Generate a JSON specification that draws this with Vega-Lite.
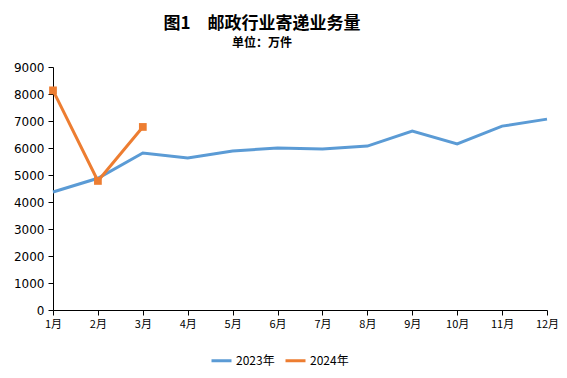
{
  "$schema": "https://vega.github.io/schema/vega-lite/v6.json",
  "width": 494,
  "height": 243,
  "autosize": "none",
  "padding": {"left": 53, "top": 67, "right": 20, "bottom": 68},
  "background": "white",
  "title": {
    "text": "图1　邮政行业寄递业务量",
    "subtitle": "单位：万件",
    "anchor": "middle",
    "dx": -38,
    "offset": 11,
    "font": "Noto Sans CJK SC",
    "fontSize": 17,
    "fontWeight": "bold",
    "color": "#000000",
    "subtitleFont": "Noto Sans CJK SC",
    "subtitleFontSize": 12,
    "subtitleFontWeight": "bold",
    "subtitleColor": "#000000",
    "subtitlePadding": 5
  },
  "data": {
    "values": [
      {"month": "1月", "series": "2023年", "value": 4370},
      {"month": "2月", "series": "2023年", "value": 4880},
      {"month": "3月", "series": "2023年", "value": 5815},
      {"month": "4月", "series": "2023年", "value": 5630},
      {"month": "5月", "series": "2023年", "value": 5890},
      {"month": "6月", "series": "2023年", "value": 6000},
      {"month": "7月", "series": "2023年", "value": 5960},
      {"month": "8月", "series": "2023年", "value": 6070},
      {"month": "9月", "series": "2023年", "value": 6630},
      {"month": "10月", "series": "2023年", "value": 6150},
      {"month": "11月", "series": "2023年", "value": 6810},
      {"month": "12月", "series": "2023年", "value": 7070},
      {"month": "1月", "series": "2024年", "value": 8135},
      {"month": "2月", "series": "2024年", "value": 4780},
      {"month": "3月", "series": "2024年", "value": 6780}
    ]
  },
  "encoding": {
    "x": {
      "field": "month",
      "type": "ordinal",
      "sort": ["1月","2月","3月","4月","5月","6月","7月","8月","9月","10月","11月","12月"],
      "scale": {"type": "point", "padding": 0},
      "axis": {
        "title": null,
        "labelAngle": 0,
        "domainColor": "#000000",
        "tickColor": "#000000",
        "tickSize": 5,
        "labelColor": "#000000",
        "labelFont": "Noto Sans CJK SC",
        "labelFontSize": 11,
        "labelPadding": 3,
        "grid": false
      }
    },
    "y": {
      "field": "value",
      "type": "quantitative",
      "scale": {"domain": [0, 9000], "nice": false},
      "axis": {
        "title": null,
        "values": [0,1000,2000,3000,4000,5000,6000,7000,8000,9000],
        "format": "d",
        "domainColor": "#000000",
        "tickColor": "#000000",
        "tickSize": 5,
        "labelColor": "#000000",
        "labelFont": "DejaVu Sans",
        "labelFontSize": 12,
        "labelPadding": 4,
        "grid": false
      }
    },
    "color": {
      "field": "series",
      "type": "nominal",
      "scale": {"domain": ["2023年", "2024年"], "range": ["#5b9bd5", "#ed7d31"]},
      "legend": {
        "title": null,
        "orient": "none",
        "legendX": 157,
        "legendY": 282,
        "direction": "horizontal",
        "symbolType": "stroke",
        "symbolStrokeWidth": 3,
        "symbolSize": 400,
        "labelFont": "Noto Sans CJK SC",
        "labelFontSize": 12,
        "labelColor": "#000000",
        "labelOffset": 3,
        "columnPadding": 4
      }
    }
  },
  "layer": [
    {"mark": {"type": "line", "strokeWidth": 3}},
    {
      "transform": [{"filter": "datum.series === '2024年'"}],
      "mark": {"type": "point", "shape": "square", "filled": true, "size": 60, "opacity": 1}
    }
  ],
  "config": {"view": {"stroke": null}}
}
